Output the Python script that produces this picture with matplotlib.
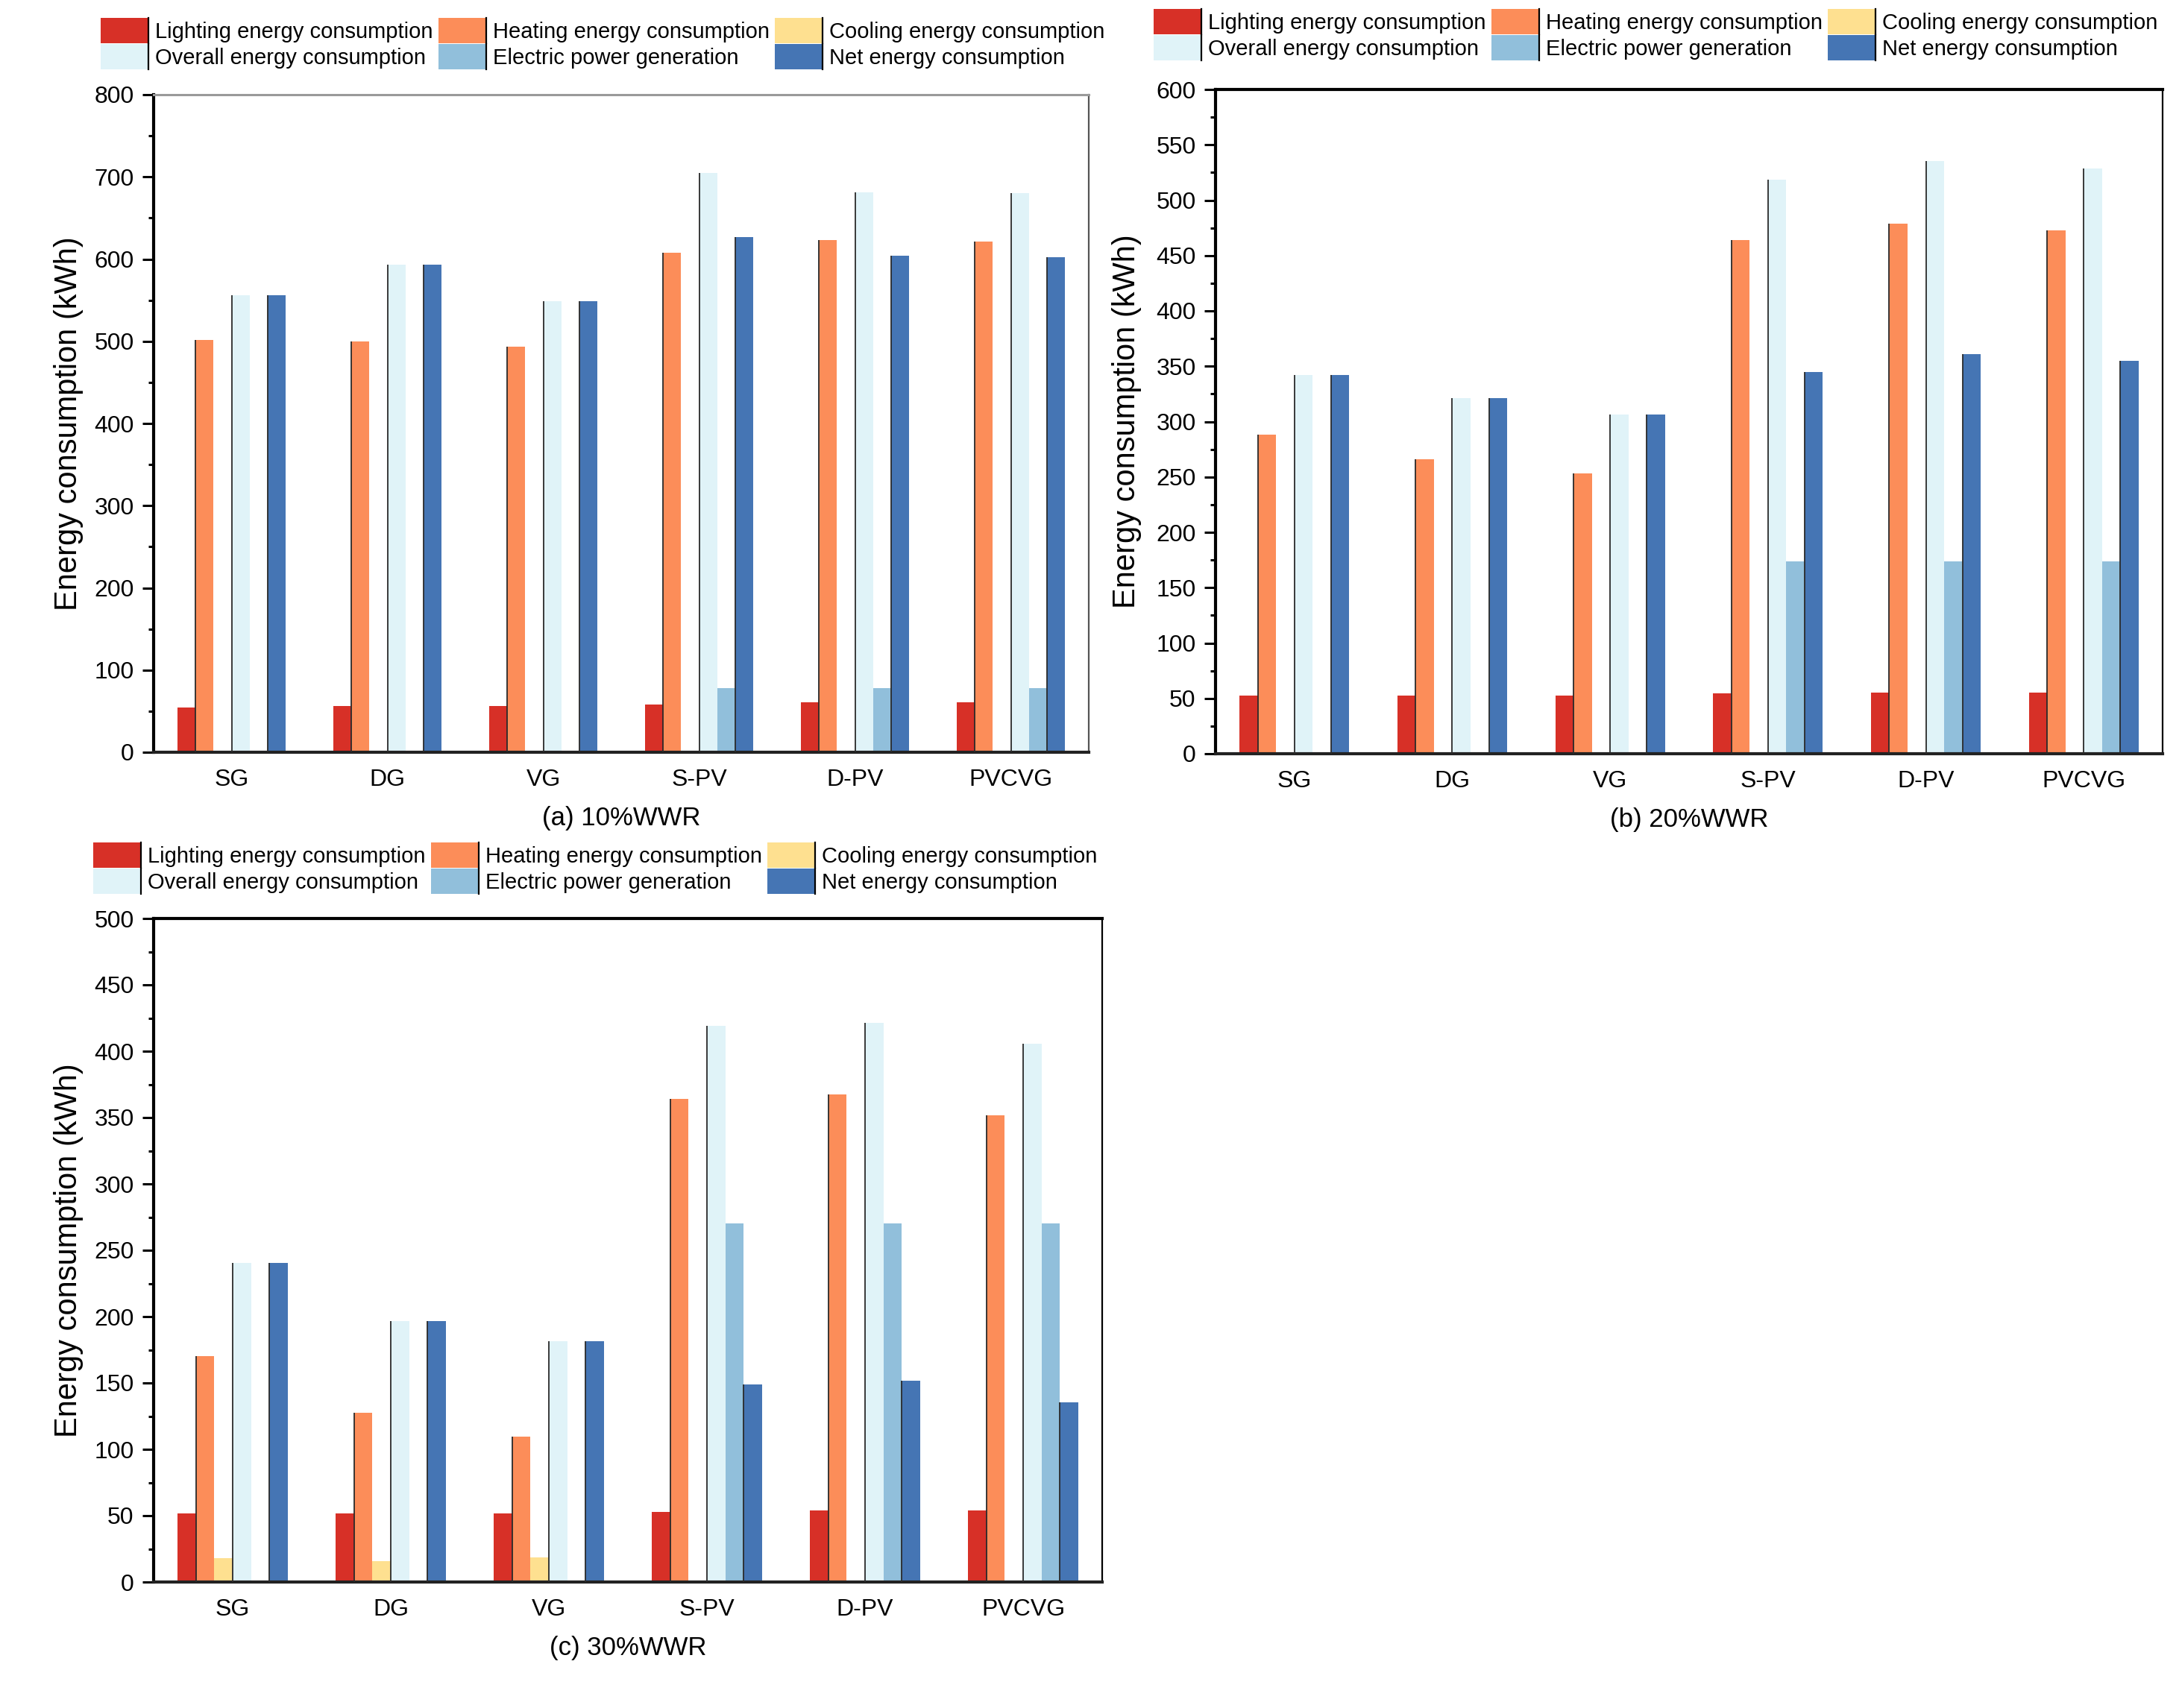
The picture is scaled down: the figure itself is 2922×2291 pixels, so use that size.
import matplotlib
matplotlib.use("Agg")
import matplotlib.pyplot as plt
import numpy as np
from matplotlib.patches import Rectangle
from matplotlib.lines import Line2D
from matplotlib.legend_handler import HandlerBase
from matplotlib.ticker import MultipleLocator

plt.rcParams['font.family'] = ['Liberation Sans', 'DejaVu Sans']

categories = ["SG", "DG", "VG", "S-PV", "D-PV", "PVCVG"]
series_names = ["Lighting energy consumption", "Heating energy consumption",
                "Cooling energy consumption", "Overall energy consumption",
                "Electric power generation", "Net energy consumption"]
colors = ["#d73027", "#fc8d59", "#fee090", "#e0f3f8", "#91bfdb", "#4575b4"]

# (a) 10% WWR
a_lighting = [54.5, 56, 56, 58.5, 61, 61]
a_heating = [502, 500, 493, 608, 623, 621]
a_cooling = [0, 0, 0, 0, 0, 0]
a_overall = [556, 593, 549, 705, 681, 680]
a_electric = [0, 0, 0, 78, 78, 78]
a_net = [556, 593, 549, 627, 604, 602]

# (b) 20% WWR
b_lighting = [52.5, 52.5, 52.5, 54.5, 55, 55]
b_heating = [288, 266, 253, 464, 479, 473]
b_cooling = [0, 0, 0, 0, 0, 0]
b_overall = [342, 321, 306.5, 518.5, 535.5, 528.5]
b_electric = [0, 0, 0, 174, 174, 174]
b_net = [342, 321, 306.5, 344.5, 361, 355]

# (c) 30% WWR
c_lighting = [51.5, 51.5, 51.5, 53, 54, 54]
c_heating = [170, 127.5, 109.5, 364, 367.5, 351.5]
c_cooling = [18, 16, 18.5, 0, 0, 0]
c_overall = [240.5, 196.5, 181.5, 419, 421.5, 405.5]
c_electric = [0, 0, 0, 270, 270, 270]
c_net = [240.5, 196.5, 181.5, 149, 151.5, 135.5]

panels = [
    ("(a) 10%WWR", [a_lighting, a_heating, a_cooling, a_overall, a_electric, a_net], 800, 100, 50),
    ("(b) 20%WWR", [b_lighting, b_heating, b_cooling, b_overall, b_electric, b_net], 600, 50, 25),
    ("(c) 30%WWR", [c_lighting, c_heating, c_cooling, c_overall, c_electric, c_net], 500, 50, 25),
]

W, H = 2922, 2291
fig = plt.figure(figsize=(W / 100, H / 100), dpi=100)

# axes rectangles in pixels: left, top, right, bottom
rects = [(206, 127, 1460, 1009), (1630, 120, 2900, 1011), (206, 1232, 1478, 2122)]
legend_anchor = [(135, 24), (1547, 12), (125, 1130)]
ylabel_pads = [10, 14, 10]
spine_styles = [
    {"top": ("#9a9a9a", 2.2), "right": ("#555555", 1.6)},
    {"top": ("black", 3.0), "right": ("black", 1.6)},
    {"top": ("black", 3.0), "right": ("black", 1.6)},
]


class BoxHandler(HandlerBase):
    def create_artists(self, legend, orig_handle, xdescent, ydescent,
                       width, height, fontsize, trans):
        r = Rectangle((-xdescent, -ydescent), width, height,
                      facecolor=orig_handle.get_facecolor(), edgecolor='none',
                      transform=trans)
        ln = Line2D([width - xdescent] * 2, [-ydescent, height - ydescent],
                    color='black', lw=1.6, transform=trans)
        return [r, ln]


x = np.arange(len(categories))
w = 0.116
edge_series = [1, 3, 5]

for k, (title, series, ymax, major, minor) in enumerate(panels):
    l, t, r, b = rects[k]
    ax = fig.add_axes([l / W, 1 - b / H, (r - l) / W, (b - t) / H])
    handles = []
    for i, vals in enumerate(series):
        bars = ax.bar(x + (i - 2.5) * w, vals, width=w, color=colors[i],
                      edgecolor='none', label=series_names[i])
        handles.append(bars.patches[0])
        if i in edge_series:
            xs = [p.get_x() for p in bars.patches if p.get_height() > 0]
            hs = [p.get_height() for p in bars.patches if p.get_height() > 0]
            ax.vlines(xs, 0, hs, colors='#2a2a2a', linewidth=1.3, zorder=3)
    ax.set_xlim(-0.5, 5.5)
    ax.set_ylim(0, ymax)
    ax.set_xticks(x)
    ax.set_xticklabels(categories)
    ax.yaxis.set_major_locator(MultipleLocator(major))
    ax.yaxis.set_minor_locator(MultipleLocator(minor))
    ax.tick_params(axis='y', which='major', direction='out', length=11, width=2.2,
                   labelsize=23, pad=8)
    ax.tick_params(axis='y', which='minor', direction='out', length=5, width=2.2)
    ax.tick_params(axis='x', which='both', length=0, labelsize=23, pad=16)
    ax.set_ylabel("Energy consumption (kWh)", fontsize=30, labelpad=ylabel_pads[k])
    ax.set_xlabel(title, fontsize=25, labelpad=14)
    ax.spines['left'].set_linewidth(3.0)
    ax.spines['bottom'].set_linewidth(3.0)
    ax.spines['bottom'].set_color('#222222')
    for side, (c, lw) in spine_styles[k].items():
        ax.spines[side].set_color(c)
        ax.spines[side].set_linewidth(lw)

    order = [0, 3, 1, 4, 2, 5]
    lx, ly = legend_anchor[k]
    fig.legend([handles[j] for j in order], [series_names[j] for j in order],
               loc='upper left', bbox_to_anchor=(lx / W, 1 - ly / H),
               ncol=3, frameon=False, fontsize=21, handlelength=2.2,
               handleheight=1.4, handletextpad=0.3, columnspacing=0.25,
               labelspacing=0.05, borderpad=0, borderaxespad=0,
               handler_map={Rectangle: BoxHandler()})

fig.savefig("out.png", dpi=100)
